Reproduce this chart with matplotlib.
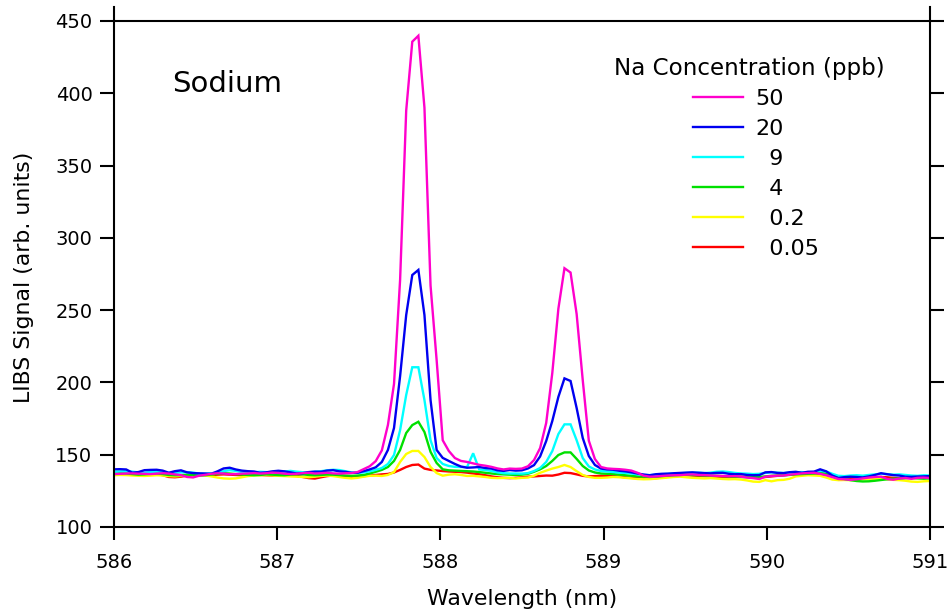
import numpy as np
import matplotlib
matplotlib.use("Agg")
import matplotlib.pyplot as plt

plt.rcParams['font.family'] = ['DejaVu Sans']

# wavelength sampling of the spectrometer (nm)
WL_START = 586.0
WL_STEP = 0.0373

labels = ["50", "20", "  9", "  4", "  0.2", "  0.05"]
colors = ["#ff00cc", "#0000f0", "#00ffff", "#00e000", "#ffff00", "#ff0000"]

na_50 = [
    136.6, 136.8, 137.0, 137.1, 136.9, 136.8, 136.6, 136.9, 137.2, 137.0,
    136.4, 135.9, 134.6, 134.3, 135.5, 136.1, 136.8, 137.2, 137.0, 136.5,
    136.6, 136.9, 137.0, 137.3, 137.0, 137.2, 137.6, 137.4, 136.9, 136.6,
    136.8, 137.3, 137.5, 137.0, 137.2, 137.5, 137.1, 136.9, 137.2, 137.3,
    138.0, 140.0,
    142.0, 145.6, 153.0, 170.6, 199.0, 271.0, 388.0, 435.7, 439.8, 390.0,
    267.0, 215.5, 160.0, 152.6, 147.7, 145.7, 145.0,
    144.0, 143.0, 142.4, 141.6, 140.5, 139.8, 140.4, 140.2, 140.4,
    142.0, 146.3, 154.6, 172.0, 206.5, 251.0, 279.0, 276.0, 247.3, 201.7,
    159.7, 147.0, 141.5,
    140.5, 140.2, 140.0, 139.6, 139.0, 137.5, 135.5, 134.8, 134.9, 135.3,
    135.6, 135.8, 135.9, 136.2, 136.4, 136.0, 135.9, 135.6, 135.4, 135.3,
    135.1, 135.2, 134.8, 134.2, 133.8, 133.2, 134.8, 135.3, 135.5, 135.6,
    136.2, 136.6, 137.1, 137.3, 137.5, 136.8, 135.8, 134.5, 133.2, 133.0,
    132.6, 133.0, 133.6, 134.2, 134.6, 134.8, 133.2, 132.7, 133.5, 133.9,
    133.3, 134.0, 134.2, 133.9,
]

na_20 = [
    139.9, 140.0, 139.8, 137.6, 138.0, 139.3, 139.5, 139.6, 139.0, 137.5,
    138.6, 139.2, 137.8, 137.3, 137.1, 137.0, 136.8, 138.5, 140.5, 141.0,
    139.8, 139.0, 138.6, 138.4, 137.5, 137.8, 138.5, 138.9, 138.5, 137.8,
    137.0, 137.2, 138.0, 138.3, 138.2, 139.0, 139.3, 138.5, 138.2, 137.5,
    137.5, 138.6,
    139.8, 141.3, 145.0, 153.3, 168.5, 204.4, 246.6, 274.3, 277.8, 246.6,
    187.8, 153.3, 147.8, 145.7, 143.6, 141.8, 141.0,
    141.2, 141.5, 140.8, 140.4, 139.2, 138.8, 139.4, 139.0, 139.2,
    140.5, 142.8, 148.8, 159.5, 173.3, 190.0, 202.8, 201.0, 182.3, 161.6,
    149.1, 142.9, 140.4,
    139.8, 139.6, 138.9, 138.5, 137.8, 137.0, 136.3, 135.8, 136.5, 136.8,
    136.9, 137.2, 137.4, 137.6, 137.8, 137.5, 137.3, 137.1, 137.4, 137.5,
    136.8, 136.5, 136.6, 136.0, 135.8, 135.9, 137.8, 138.0, 137.4, 137.3,
    137.9, 138.2, 137.5, 138.2, 138.3, 139.9, 138.5, 135.6, 133.9, 134.5,
    134.8, 134.6, 134.3, 135.0, 136.0, 137.2, 136.5, 135.9, 135.6, 134.8,
    134.7, 134.9, 135.0, 135.2,
]

na_9 = [
    138.2, 138.5, 138.6, 138.3, 137.8, 137.6, 138.0, 138.4, 138.2, 137.5,
    137.4, 137.8, 138.0, 137.6, 137.0, 136.8, 137.2, 137.6, 138.6, 139.3,
    138.8, 138.0, 137.6, 137.8, 138.2, 138.0, 137.6, 137.9, 138.4, 138.8,
    138.3, 137.9, 137.8, 138.2, 138.6, 139.2, 139.6, 139.4, 138.6, 137.8,
    137.4, 137.8,
    138.5, 139.5, 140.8, 143.6, 149.8, 167.0, 191.3, 210.5, 210.5, 187.8,
    160.0, 147.7, 143.6, 142.2, 141.6, 141.5, 141.5,
    151.0, 139.8, 139.4, 138.8, 137.8, 137.2, 137.0, 137.0, 136.9,
    137.3, 138.7, 140.8, 145.0, 152.5, 164.3, 171.0, 171.0, 160.0, 147.7,
    141.9, 139.8, 138.7,
    138.4, 138.0, 137.6, 137.4, 137.0, 136.4, 136.0, 135.9, 136.2, 136.5,
    136.8, 137.0, 137.2, 137.4, 137.5, 137.6, 137.3, 137.6, 138.2, 138.4,
    138.0, 137.4, 137.0, 136.9, 136.6, 136.8, 137.4, 137.8, 137.6, 137.3,
    137.6, 137.9, 138.0, 137.6, 138.0, 138.8, 138.4, 136.8, 135.4, 135.2,
    135.6, 135.8, 135.5, 136.0, 136.4, 136.8, 136.6, 136.2, 136.4, 136.0,
    135.6, 135.4, 135.8, 135.6,
]

na_4 = [
    137.0, 137.2, 137.0, 136.6, 136.2, 136.4, 136.8, 137.0, 136.6, 136.0,
    135.8, 135.9, 136.2, 136.0, 135.6, 135.8, 136.3, 136.8, 137.2, 137.0,
    136.6, 136.3, 136.0, 135.8, 136.0, 136.4, 136.2, 135.9, 135.8, 136.2,
    136.5, 136.4, 136.0, 135.8, 136.0, 136.3, 136.2, 135.9, 135.6, 135.4,
    135.6, 136.0,
    137.0, 138.2, 139.5, 141.5, 145.7, 153.3, 165.0, 170.5, 172.8, 165.7,
    152.0, 144.3, 139.9, 139.2, 139.0, 138.8, 138.6,
    138.4, 138.0, 137.5, 137.0, 136.6, 136.4, 136.2, 136.0, 136.2,
    136.8, 138.2, 139.9, 142.2, 145.7, 149.8, 151.6, 151.6, 147.1, 142.2,
    139.1, 137.7, 137.0,
    136.8, 136.6, 136.2, 135.8, 135.4, 135.0, 134.8, 134.6, 134.8, 135.2,
    135.5, 135.8, 136.0, 136.2, 136.0, 135.8, 135.6, 135.5, 135.4, 135.2,
    135.0, 134.8, 134.6, 134.5, 134.4, 134.6, 135.0, 135.4, 135.6, 135.8,
    136.0, 136.4, 136.6, 136.8, 137.0, 137.4, 137.0, 135.4, 134.0, 133.2,
    132.4, 131.8, 131.5, 131.6, 132.0, 132.5, 133.0, 133.4, 133.6, 133.8,
    134.0, 133.6, 133.4, 133.6,
]

na_02 = [
    135.8, 136.0, 135.9, 135.6, 135.4, 135.3, 135.5, 135.8, 135.6, 135.2,
    135.0, 135.3, 135.6, 135.8, 135.9, 135.6, 135.0, 134.2, 133.6, 133.4,
    133.6, 134.4, 135.2, 135.6, 135.8, 135.9, 135.7, 135.4, 135.2, 135.0,
    134.8, 134.6, 134.4, 134.8, 135.3, 135.6, 135.2, 134.6, 134.0, 133.6,
    134.0, 134.8,
    135.4, 135.5, 135.3, 136.0, 138.0, 145.0, 150.5, 152.6, 152.6, 148.4,
    141.5, 137.3, 135.5, 136.2, 136.5, 136.0, 135.3,
    135.4, 135.0, 134.6, 134.0, 133.8, 133.9, 134.0, 133.6, 134.0,
    134.2, 135.5, 137.5, 139.0, 140.4, 141.5, 142.9, 141.5, 138.6, 136.0,
    134.6, 134.0, 134.0,
    134.2, 134.6, 134.4, 134.0, 133.6, 133.2, 133.0, 133.1, 133.4, 133.8,
    134.2, 134.6, 134.8, 134.4, 134.0, 133.8, 133.6, 133.8, 133.5, 133.2,
    133.0, 133.1, 132.8, 132.2, 131.4, 131.2, 132.4, 131.6, 132.4, 132.6,
    133.4, 135.0, 135.4, 135.8, 135.6, 135.4, 134.2, 132.8, 132.4, 132.5,
    132.4, 132.6, 133.0, 133.2, 133.4, 133.6, 133.0, 132.6, 132.4, 132.0,
    131.4, 131.2, 131.6, 131.8,
]

na_005 = [
    136.2, 136.4, 136.6, 136.4, 136.2, 136.4, 136.6, 136.8, 135.8, 134.6,
    134.4, 134.8, 135.6, 136.0, 136.2, 136.0, 135.9, 136.2, 136.4, 136.2,
    136.0, 135.8, 135.9, 136.1, 136.0, 135.8, 135.6, 135.8, 136.0, 135.8,
    135.4, 134.6, 133.8, 133.5, 134.4, 135.2, 135.6, 135.4, 135.0, 134.6,
    134.8, 135.2,
    135.6, 136.0, 136.4, 136.7, 137.7, 139.5, 141.5, 142.9, 143.2, 140.4,
    139.5, 139.1, 138.7, 138.4, 138.2, 138.0, 137.6,
    137.0, 136.5, 135.8, 135.0, 134.4, 134.0, 133.8, 134.0, 134.4,
    134.8, 135.0, 135.3, 135.6, 135.5, 136.3, 137.5, 137.3, 136.4, 135.4,
    135.0, 135.2, 135.4,
    135.4, 135.2, 134.8, 134.4, 134.0, 133.8, 133.6, 133.6, 133.8, 134.2,
    134.8, 135.2, 135.6, 135.8, 135.6, 135.4, 135.2, 135.0, 134.8, 134.6,
    134.4, 134.6, 134.8, 134.6, 134.4, 134.2, 134.6, 135.0, 135.4, 135.8,
    136.2, 136.6, 137.0, 137.2, 137.0, 136.6, 136.0, 135.2, 134.6, 134.2,
    134.0, 133.8, 133.6, 133.8, 134.2, 134.6, 134.4, 134.0, 133.8, 134.0,
    134.2, 134.4, 134.3, 134.5,
]

series = [na_50, na_20, na_9, na_4, na_02, na_005]

x_ticks = [586, 587, 588, 589, 590, 591]
y_ticks = [100, 150, 200, 250, 300, 350, 400, 450]

W, H = 948, 613
fig = plt.figure(figsize=(W / 100, H / 100), dpi=100)
ax = fig.add_axes([114 / W, 1 - 527 / H, (930 - 114) / W, (527 - 21) / H])

handles = [None] * len(series)
for i in reversed(range(len(series))):
    vals = np.array(series[i])
    wl = WL_START + WL_STEP * np.arange(len(vals))
    (ln,) = ax.plot(wl, vals, color=colors[i], lw=1.7, solid_joinstyle='miter')
    handles[i] = ln

ax.set_xlim(586, 591)
ax.set_ylim(100, 450)
ax.set_xticks(x_ticks)
ax.set_yticks(y_ticks)

for s in ax.spines.values():
    s.set_linewidth(1.5)
ax.spines['left'].set_bounds(100, 459.7)
ax.spines['right'].set_bounds(100, 459.7)

ax.tick_params(axis='y', which='both', left=True, right=True, labelleft=True,
               labelright=False, direction='out', length=10, width=1.5,
               labelsize=14, pad=5.5)
ax.tick_params(axis='x', which='both', bottom=True, top=False, direction='out',
               length=9.4, width=1.5, labelsize=14, pad=9.5)

fig.text(24 / W, 1 - 277 / H, "LIBS Signal (arb. units)", rotation=90,
         ha='center', va='center', fontsize=15.8)
fig.text(522 / W, 1 - 599 / H, "Wavelength (nm)", ha='center', va='center',
         fontsize=15.8)

fig.text(172 / W, 1 - 84 / H, "Sodium", ha='left', va='center', fontsize=21)
fig.text(749 / W, 1 - 68 / H, "Na Concentration (ppb)", ha='center',
         va='center', fontsize=16.6)

leg = ax.legend(handles, labels, loc='upper left',
                bbox_to_anchor=(693 / W, 1 - 89 / H),
                bbox_transform=fig.transFigure, frameon=False, fontsize=16,
                handlelength=2.25, handletextpad=0.55, labelspacing=0.45,
                borderpad=0, borderaxespad=0)

fig.savefig("out.png", dpi=100)
